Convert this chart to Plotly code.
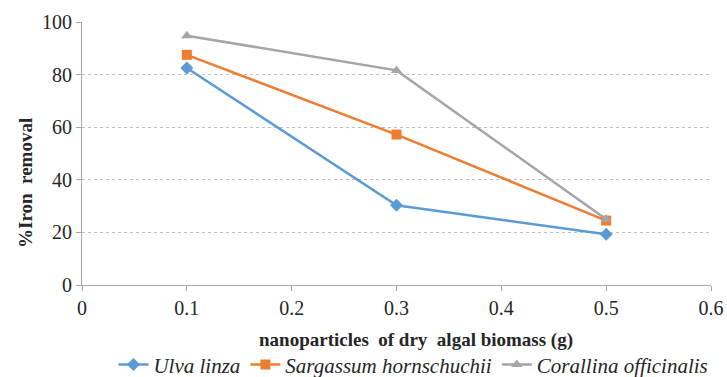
import plotly.graph_objects as go

x = [0.1, 0.3, 0.5]
ulva = [82.5, 30.3, 19.3]
sargassum = [87.5, 57.2, 24.5]
corallina = [94.8, 81.6, 25.0]

names = ["Ulva linza", "Sargassum hornschuchii", "Corallina officinalis"]
colors = ["#5B9BD5", "#ED7D31", "#A5A5A5"]
symbols = ["diamond", "square", "triangle-up"]
series = [ulva, sargassum, corallina]

fig = go.Figure()
for n, c, s, y in zip(names, colors, symbols, series):
    fig.add_trace(go.Scatter(
        x=x, y=y, mode="lines+markers", name="<i>" + n + "</i>",
        line=dict(color=c, width=2.5),
        marker=dict(symbol=s, size=10, color=c),
    ))

font = "Liberation Serif"
fig.update_layout(
    width=727, height=377,
    margin=dict(l=82, r=16, t=22, b=92, autoexpand=False),
    paper_bgcolor="white", plot_bgcolor="white",
    font=dict(family=font, size=20, color="#262626"),
    showlegend=True,
    legend=dict(orientation="h", x=0.05, xanchor="left", yref="container",
                y=0.032, yanchor="middle",
                font=dict(size=21, family=font, color="#262626")),
    xaxis=dict(range=[0, 0.6], dtick=0.1, tick0=0, showgrid=False,
               showline=True, linecolor="#A6A6A6", linewidth=1,
               ticks="outside", ticklen=5, tickcolor="#A6A6A6",
               zeroline=False),
    yaxis=dict(range=[0, 100], dtick=20, showgrid=True, gridcolor="#BFBFBF",
               griddash="dot", gridwidth=1,
               showline=True, linecolor="#A6A6A6", linewidth=1,
               ticks="outside", ticklen=5, tickcolor="#A6A6A6",
               zeroline=False),
    annotations=[
        dict(text="<b>nanoparticles  of dry  algal biomass (g)</b>",
             xref="paper", yref="paper", x=(416 - 82) / 629, y=(285 - 340) / 263,
             xanchor="center", yanchor="middle", showarrow=False,
             font=dict(size=19, family=font, color="#262626")),
        dict(text="<b>%Iron  removal</b>", textangle=-90,
             xref="paper", yref="paper", x=(25 - 82) / 629, y=(285 - 183) / 263,
             xanchor="center", yanchor="middle", showarrow=False,
             font=dict(size=19, family=font, color="#262626")),
    ],
)
fig.write_html("out.html")
